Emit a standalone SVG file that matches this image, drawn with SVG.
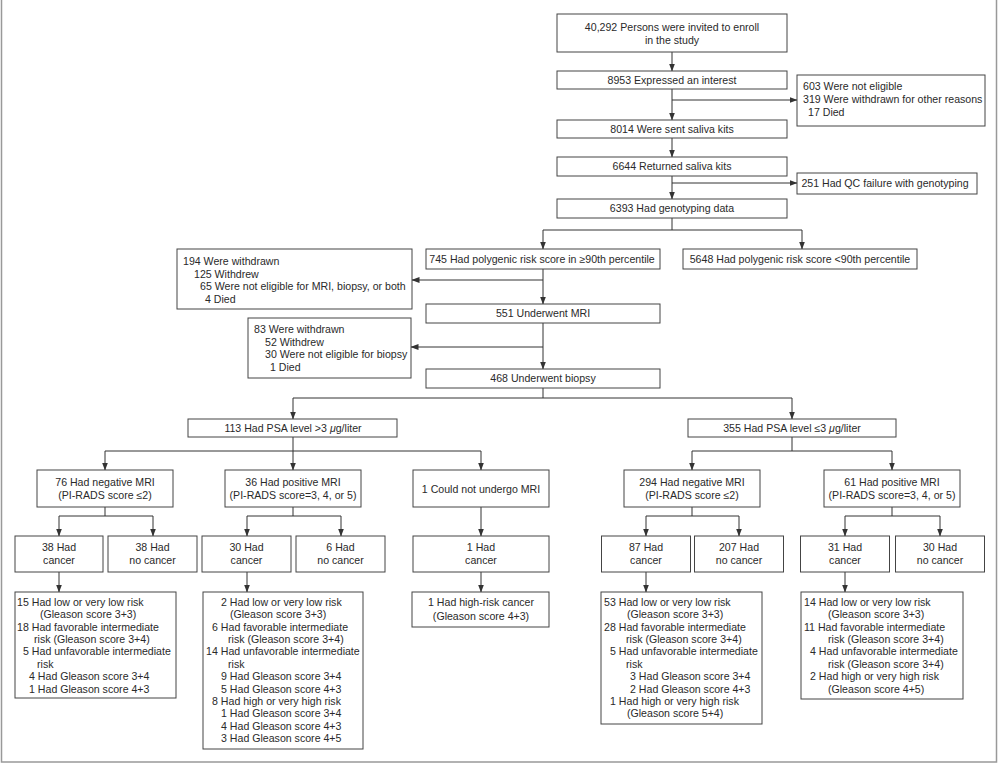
<svg xmlns="http://www.w3.org/2000/svg" width="1000" height="764" viewBox="0 0 1000 764">
<defs>
<marker id="ah" markerUnits="userSpaceOnUse" markerWidth="8" markerHeight="6" refX="7.5" refY="3" orient="auto">
<path d="M0,0 L8,3 L0,6 z" fill="#333"/>
</marker>
<style>
rect.b{fill:#fff;stroke:#444;stroke-width:1}
text{font-family:"Liberation Sans",Arial,sans-serif;font-size:10.6px;fill:#2a2a2a}
text.c{text-anchor:middle}
.cn path{fill:none;stroke:#333;stroke-width:1}
.cn path.a{marker-end:url(#ah)}
</style>
</defs>
<rect x="1.5" y="-2" width="995" height="764" fill="#fff" stroke="#999" stroke-width="1.5"/>

<g id="connectors" class="cn">
<path class="a" d="M672,52 V71"/>
<path class="a" d="M672,89 V120"/>
<path class="a" d="M672,100 H797"/>
<path class="a" d="M672,138 V157"/>
<path class="a" d="M672,176 V199"/>
<path class="a" d="M672,183 H797"/>
<path d="M672,218 V230 M543,230 H802"/>
<path class="a" d="M543,230 V249"/>
<path class="a" d="M802,230 V249"/>
<path class="a" d="M543,269 V304"/>
<path class="a" d="M543,280 H412"/>
<path class="a" d="M543,323 V369"/>
<path class="a" d="M543,347 H411"/>
<path d="M543,388 V398 M293,398 H792"/>
<path class="a" d="M293,398 V419"/>
<path class="a" d="M792,398 V419"/>
<path d="M293,437 V451 M105,451 H481"/>
<path class="a" d="M105,451 V470"/>
<path class="a" d="M293,451 V470"/>
<path class="a" d="M481,451 V470"/>
<path d="M792,437 V451 M692,451 H892"/>
<path class="a" d="M692,451 V470"/>
<path class="a" d="M892,451 V470"/>
<path d="M105,507 V516 M59,516 H153"/>
<path class="a" d="M59,516 V536"/>
<path class="a" d="M153,516 V536"/>
<path d="M293,507 V516 M247,516 H341"/>
<path class="a" d="M247,516 V536"/>
<path class="a" d="M341,516 V536"/>
<path class="a" d="M481,507 V536"/>
<path d="M692,507 V516 M646,516 H739"/>
<path class="a" d="M646,516 V536"/>
<path class="a" d="M739,516 V536"/>
<path d="M892,507 V516 M845,516 H940"/>
<path class="a" d="M845,516 V536"/>
<path class="a" d="M940,516 V536"/>
<path class="a" d="M59,572 V592"/>
<path class="a" d="M247,572 V592"/>
<path class="a" d="M481,572 V592"/>
<path class="a" d="M646,572 V592"/>
<path class="a" d="M845,572 V592"/>
</g>

<g id="n-invited"><rect class="b" x="557" y="14" width="230" height="38"/>
<text class="c" x="672" y="31">40,292 Persons were invited to enroll</text>
<text class="c" x="672" y="44">in the study</text></g>
<g id="n-interest"><rect class="b" x="557" y="71" width="230" height="18"/>
<text class="c" x="672" y="84">8953 Expressed an interest</text></g>
<g id="n-excl1"><rect class="b" x="797" y="75" width="188" height="51"/>
<text x="803" y="90">603 Were not eligible</text>
<text x="803" y="103">319 Were withdrawn for other reasons</text>
<text x="808" y="116">17 Died</text></g>
<g id="n-sent"><rect class="b" x="557" y="120" width="230" height="18"/>
<text class="c" x="672" y="133">8014 Were sent saliva kits</text></g>
<g id="n-returned"><rect class="b" x="557" y="157" width="230" height="19"/>
<text class="c" x="672" y="170">6644 Returned saliva kits</text></g>
<g id="n-qc"><rect class="b" x="797" y="173" width="180" height="21"/>
<text class="c" x="885" y="187">251 Had QC failure with genotyping</text></g>
<g id="n-geno"><rect class="b" x="557" y="199" width="230" height="19"/>
<text class="c" x="672" y="212">6393 Had genotyping data</text></g>
<g id="n-high"><rect class="b" x="426" y="249" width="234" height="20"/>
<text class="c" x="542" y="263">745 Had polygenic risk score in ≥90th percentile</text></g>
<g id="n-low"><rect class="b" x="683" y="249" width="234" height="20"/>
<text class="c" x="800" y="263">5648 Had polygenic risk score &lt;90th percentile</text></g>
<g id="n-wd1"><rect class="b" x="177" y="249" width="235" height="60"/>
<text x="183" y="265">194 Were withdrawn</text>
<text x="194" y="277.5">125 Withdrew</text>
<text x="200" y="290">65 Were not eligible for MRI, biopsy, or both</text>
<text x="205" y="302.5">4 Died</text></g>
<g id="n-mri"><rect class="b" x="426" y="304" width="234" height="19"/>
<text class="c" x="543" y="317">551 Underwent MRI</text></g>
<g id="n-wd2"><rect class="b" x="248" y="318" width="163" height="60"/>
<text x="254" y="333">83 Were withdrawn</text>
<text x="265" y="345.5">52 Withdrew</text>
<text x="265" y="358">30 Were not eligible for biopsy</text>
<text x="270" y="370.5">1 Died</text></g>
<g id="n-biopsy"><rect class="b" x="426" y="369" width="234" height="19"/>
<text class="c" x="543" y="382">468 Underwent biopsy</text></g>
<g id="n-psahi"><rect class="b" x="188" y="419" width="209" height="18"/>
<text class="c" x="293" y="432">113 Had PSA level &gt;3 <tspan font-style="italic">μ</tspan>g/liter</text></g>
<g id="n-psalo"><rect class="b" x="688" y="419" width="208" height="18"/>
<text class="c" x="792" y="432">355 Had PSA level ≤3 <tspan font-style="italic">μ</tspan>g/liter</text></g>
<g id="n-neg1"><rect class="b" x="37" y="470" width="136" height="37"/>
<text class="c" x="105" y="486">76 Had negative MRI</text>
<text class="c" x="105" y="499">(PI-RADS score ≤2)</text></g>
<g id="n-pos1"><rect class="b" x="225" y="470" width="136" height="37"/>
<text class="c" x="293" y="486">36 Had positive MRI</text>
<text class="c" x="293" y="499">(PI-RADS score=3, 4, or 5)</text></g>
<g id="n-nomri"><rect class="b" x="413" y="470" width="136" height="37"/>
<text class="c" x="481" y="492.5">1 Could not undergo MRI</text></g>
<g id="n-neg2"><rect class="b" x="624" y="470" width="136" height="37"/>
<text class="c" x="692" y="486">294 Had negative MRI</text>
<text class="c" x="692" y="499">(PI-RADS score ≤2)</text></g>
<g id="n-pos2"><rect class="b" x="824" y="470" width="136" height="37"/>
<text class="c" x="892" y="486">61 Had positive MRI</text>
<text class="c" x="892" y="499">(PI-RADS score=3, 4, or 5)</text></g>

<g id="n-c1"><rect class="b" x="15" y="536" width="88" height="36"/>
<text class="c" x="59" y="551">38 Had</text><text class="c" x="59" y="564">cancer</text></g>
<g id="n-nc1"><rect class="b" x="108" y="536" width="89" height="36"/>
<text class="c" x="152.5" y="551">38 Had</text><text class="c" x="152.5" y="564">no cancer</text></g>
<g id="n-c2"><rect class="b" x="202" y="536" width="89" height="36"/>
<text class="c" x="246.5" y="551">30 Had</text><text class="c" x="246.5" y="564">cancer</text></g>
<g id="n-nc2"><rect class="b" x="296" y="536" width="89" height="36"/>
<text class="c" x="340.5" y="551">6 Had</text><text class="c" x="340.5" y="564">no cancer</text></g>
<g id="n-c3"><rect class="b" x="413" y="536" width="136" height="36"/>
<text class="c" x="481" y="551">1 Had</text><text class="c" x="481" y="564">cancer</text></g>
<g id="n-c4"><rect class="b" x="601.5" y="536" width="89" height="36"/>
<text class="c" x="646" y="551">87 Had</text><text class="c" x="646" y="564">cancer</text></g>
<g id="n-nc4"><rect class="b" x="694.5" y="536" width="89" height="36"/>
<text class="c" x="739" y="551">207 Had</text><text class="c" x="739" y="564">no cancer</text></g>
<g id="n-c5"><rect class="b" x="800.5" y="536" width="89" height="36"/>
<text class="c" x="845" y="551">31 Had</text><text class="c" x="845" y="564">cancer</text></g>
<g id="n-nc5"><rect class="b" x="895.5" y="536" width="89" height="36"/>
<text class="c" x="940" y="551">30 Had</text><text class="c" x="940" y="564">no cancer</text></g>

<g id="n-r1"><rect class="b" x="15" y="592" width="161" height="106"/>
<text x="17" y="606">15 Had low or very low risk</text>
<text x="40" y="618.4">(Gleason score 3+3)</text>
<text x="17" y="630.7">18 Had favorable intermediate</text>
<text x="34" y="643.1">risk (Gleason score 3+4)</text>
<text x="23" y="655.4">5 Had unfavorable intermediate</text>
<text x="37" y="667.8">risk</text>
<text x="29" y="680.2">4 Had Gleason score 3+4</text>
<text x="29" y="692.5">1 Had Gleason score 4+3</text></g>
<g id="n-r2"><rect class="b" x="203" y="592" width="160" height="157"/>
<text x="221" y="606">2 Had low or very low risk</text>
<text x="230" y="618.4">(Gleason score 3+3)</text>
<text x="212" y="630.7">6 Had favorable intermediate</text>
<text x="228" y="643.1">risk (Gleason score 3+4)</text>
<text x="206" y="655.4">14 Had unfavorable intermediate</text>
<text x="228" y="667.8">risk</text>
<text x="221" y="680.2">9 Had Gleason score 3+4</text>
<text x="221" y="692.5">5 Had Gleason score 4+3</text>
<text x="212" y="704.9">8 Had high or very high risk</text>
<text x="221" y="717.2">1 Had Gleason score 3+4</text>
<text x="221" y="729.6">4 Had Gleason score 4+3</text>
<text x="221" y="742">3 Had Gleason score 4+5</text></g>
<g id="n-r3"><rect class="b" x="412" y="592" width="137" height="35"/>
<text class="c" x="481" y="606">1 Had high-risk cancer</text>
<text class="c" x="481" y="620">(Gleason score 4+3)</text></g>
<g id="n-r4"><rect class="b" x="601" y="592" width="161" height="132"/>
<text x="604" y="606">53 Had low or very low risk</text>
<text x="627" y="618.4">(Gleason score 3+3)</text>
<text x="604" y="630.7">28 Had favorable intermediate</text>
<text x="626" y="643.1">risk (Gleason score 3+4)</text>
<text x="610" y="655.4">5 Had unfavorable intermediate</text>
<text x="626" y="667.8">risk</text>
<text x="630" y="680.2">3 Had Gleason score 3+4</text>
<text x="630" y="692.5">2 Had Gleason score 4+3</text>
<text x="610" y="704.9">1 Had high or very high risk</text>
<text x="627" y="717.2">(Gleason score 5+4)</text></g>
<g id="n-r5"><rect class="b" x="801" y="592" width="162" height="107"/>
<text x="804" y="606">14 Had low or very low risk</text>
<text x="828" y="618.4">(Gleason score 3+3)</text>
<text x="804" y="630.7">11 Had favorable intermediate</text>
<text x="828" y="643.1">risk (Gleason score 3+4)</text>
<text x="810" y="655.4">4 Had unfavorable intermediate</text>
<text x="828" y="667.8">risk (Gleason score 3+4)</text>
<text x="810" y="680.2">2 Had high or very high risk</text>
<text x="828" y="692.5">(Gleason score 4+5)</text></g>
</svg>
